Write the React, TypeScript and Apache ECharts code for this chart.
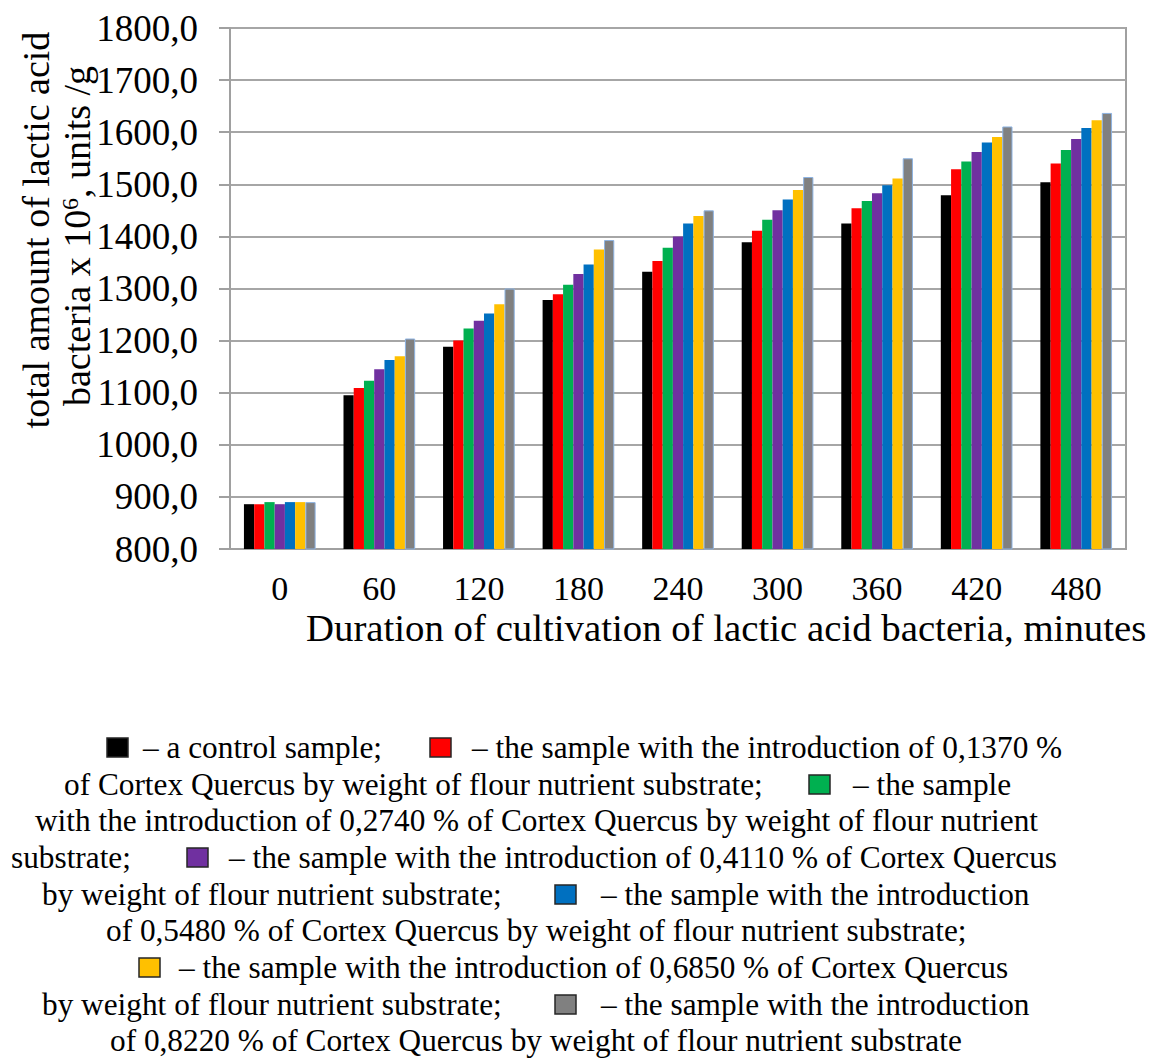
import React, { useEffect, useRef } from "react";
import * as echarts from "echarts";

// ---- data ----
const categories = ["0", "60", "120", "180", "240", "300", "360", "420", "480"];
const control = [886, 1095, 1188, 1278, 1332, 1389, 1425, 1479, 1504];
const s1370 = [886, 1109, 1200, 1289, 1353, 1411, 1454, 1529, 1540];
const s2740 = [890, 1123, 1223, 1307, 1378, 1432, 1468, 1544, 1566];
const s4110 = [886, 1145, 1238, 1328, 1400, 1450, 1483, 1562, 1587];
const s5480 = [890, 1163, 1252, 1346, 1425, 1471, 1498, 1580, 1608];
const s6850 = [890, 1170, 1270, 1375, 1439, 1489, 1511, 1591, 1623];
const s8220 = [890, 1204, 1300, 1393, 1450, 1514, 1550, 1611, 1637];

const seriesNames = [
  "a control sample",
  "0,1370 % of Cortex Quercus",
  "0,2740 % of Cortex Quercus",
  "0,4110 % of Cortex Quercus",
  "0,5480 % of Cortex Quercus",
  "0,6850 % of Cortex Quercus",
  "0,8220 % of Cortex Quercus",
];
const seriesData = [control, s1370, s2740, s4110, s5480, s6850, s8220];
const colors = ["#000000", "#ff0000", "#00b050", "#7030a0", "#0070c0", "#ffc000", "#808080"];

const yTitle1 = "total amount of lactic acid";
const yTitle2 = "bacteria x 10{sup|6}, units /g";
const xTitle = "Duration of cultivation of lactic acid bacteria, minutes";

// legend paragraph: segments are either text or a colour box index
type Seg = { t?: string; box?: number };
const legendLines: Seg[][] = [
  [{ box: 0 }, { t: "– a control sample;" }, { box: 1 }, { t: "– the sample with the introduction of 0,1370 %" }],
  [{ t: "of Cortex Quercus by weight of flour nutrient substrate;" }, { box: 2 }, { t: "– the sample" }],
  [{ t: "with the introduction of 0,2740 % of Cortex Quercus by weight of flour nutrient" }],
  [{ t: "substrate;" }, { box: 3 }, { t: "– the sample with the introduction of 0,4110 % of Cortex Quercus" }],
  [{ t: "by weight of flour nutrient substrate;" }, { box: 4 }, { t: "– the sample with the introduction" }],
  [{ t: "of 0,5480 % of Cortex Quercus by weight of flour nutrient substrate;" }],
  [{ box: 5 }, { t: "– the sample with the introduction of 0,6850 % of Cortex Quercus" }],
  [{ t: "by weight of flour nutrient substrate;" }, { box: 6 }, { t: "– the sample with the introduction" }],
  [{ t: "of 0,8220 % of Cortex Quercus by weight of flour nutrient substrate" }],
];

// ---- layout (positions only) ----
const legendY = [747, 784, 820, 857, 894, 930, 967, 1004, 1040];
const legendX = [
  [107, 143, 430, 472],
  [64, 809, 853],
  [35],
  [11, 187, 229],
  [42, 555, 601],
  [106],
  [139, 179],
  [42, 555, 601],
  [110],
];

const FONT = "Liberation Serif";

export default function App() {
  const ref = useRef<HTMLDivElement>(null);

  useEffect(() => {
    if (!ref.current) return;
    const chart = echarts.init(ref.current, undefined, { renderer: "svg" });

    const graphics: any[] = [];
    legendLines.forEach((line, li) => {
      line.forEach((seg, si) => {
        const x = legendX[li][si];
        const y = legendY[li];
        if (seg.box !== undefined) {
          graphics.push({
            type: "rect",
            shape: { x, y: y - 9, width: 21, height: 19 },
            style: { fill: colors[seg.box], stroke: "#262626", lineWidth: 1.5 },
          });
        } else {
          graphics.push({
            type: "text",
            x,
            y,
            style: {
              text: seg.t,
              fontSize: 31.3,
              fontFamily: FONT,
              fill: "#000",
              textAlign: "left",
              textVerticalAlign: "middle",
            },
          });
        }
      });
    });

    graphics.push({
      type: "text",
      x: 36,
      y: 230,
      rotation: Math.PI / 2,
      style: {
        text: yTitle1,
        fontSize: 38,
        fontFamily: FONT,
        fill: "#000",
        textAlign: "center",
        textVerticalAlign: "middle",
      },
    });
    graphics.push({
      type: "text",
      x: 77,
      y: 236,
      rotation: Math.PI / 2,
      style: {
        text: yTitle2,
        fontSize: 38,
        fontFamily: FONT,
        fill: "#000",
        textAlign: "center",
        textVerticalAlign: "middle",
        rich: {
          sup: {
            fontSize: 24,
            fontFamily: FONT,
            fill: "#000",
            verticalAlign: "top",
            padding: [0, 0, 14, 0],
          },
        },
      },
    });
    graphics.push({
      type: "text",
      x: 306,
      y: 627,
      style: {
        text: xTitle,
        fontSize: 38.8,
        fontFamily: FONT,
        fill: "#000",
        textAlign: "left",
        textVerticalAlign: "middle",
      },
    });

    chart.setOption({
      animation: false,
      backgroundColor: "#ffffff",
      textStyle: { fontFamily: FONT },
      grid: {
        left: 230,
        right: 23,
        top: 28,
        bottom: 510,
        show: true,
        borderColor: "#a0a0a0",
        borderWidth: 2,
        containLabel: false,
      },
      xAxis: {
        type: "category",
        data: categories,
        axisLine: { lineStyle: { color: "#a0a0a0", width: 2 } },
        axisTick: { show: false },
        axisLabel: { color: "#000", fontSize: 34, fontFamily: FONT, margin: 22 },
      },
      yAxis: {
        type: "value",
        min: 800,
        max: 1800,
        interval: 100,
        axisLine: { show: true, lineStyle: { color: "#a0a0a0", width: 2 } },
        axisTick: { show: true, length: 11, lineStyle: { color: "#a0a0a0", width: 2 } },
        splitLine: { lineStyle: { color: "#a6a6a6", width: 2 } },
        axisLabel: {
          color: "#000",
          fontSize: 37,
          fontFamily: FONT,
          margin: 32,
          formatter: (v: number) => v.toFixed(1).replace(".", ","),
        },
      },
      series: seriesData.map((d, i) => ({
        type: "bar",
        name: seriesNames[i],
        data: d,
        barGap: "0%",
        barCategoryGap: "28%",
        itemStyle: {
          color: colors[i],
          borderColor: i === 6 ? "#8db3e2" : undefined,
          borderWidth: i === 6 ? 1 : 0,
        },
      })),
      graphic: graphics,
    });

    return () => chart.dispose();
  }, []);

  return (
    <div
      ref={ref}
      style={{ position: "absolute", left: 0, top: 0, width: 1149, height: 1059, background: "#fff" }}
    />
  );
}
